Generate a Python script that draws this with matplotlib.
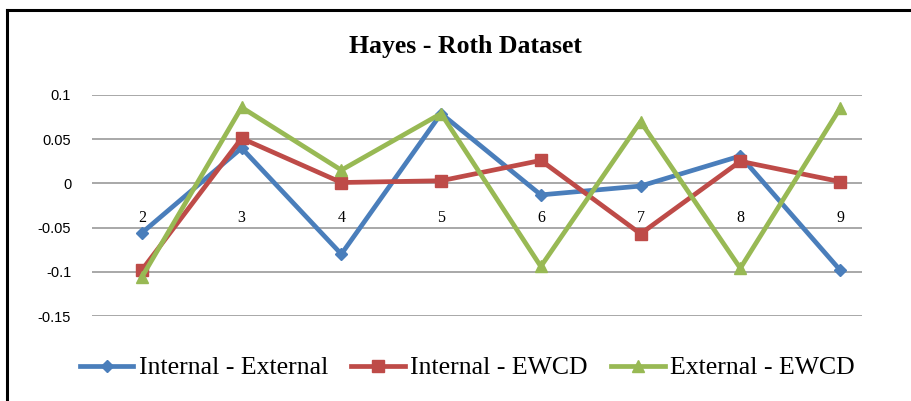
import numpy as np
import matplotlib.pyplot as plt
from matplotlib.lines import Line2D

# data
groups = [2, 3, 4, 5, 6, 7, 8, 9]
int_ext = [-0.056, 0.040, -0.080, 0.079, -0.013, -0.003, 0.031, -0.098]
int_ewcd = [-0.098, 0.051, 0.001, 0.003, 0.026, -0.057, 0.025, 0.002]
ext_ewcd = [-0.106, 0.086, 0.015, 0.079, -0.094, 0.070, -0.096, 0.085]
yticks = [-0.15, -0.1, -0.05, 0, 0.05, 0.1]
ytick_labels = ['-0.15', '-0.1', '-0.05', '0', '0.05', '0.1']

serif = 'Liberation Serif'
sans = 'Liberation Sans'

W, H = 912, 401
fig = plt.figure(figsize=[W / 100, H / 100], dpi=100)
ax = fig.add_axes([92 / W, 1 - 316 / H, (862 - 92) / W, (316 - 95) / H])

# Plotting
ax.plot(groups, int_ext, color='#4A7EBB', lw=3.4, marker='D', ms=6,
        label='Internal - External', zorder=3)
ax.plot(groups, int_ewcd, color='#BE4B48', lw=3.4, marker='s', ms=8,
        label='Internal - EWCD', zorder=3)
ax.plot(groups, ext_ewcd, color='#98B954', lw=3.4, marker='^', ms=9,
        label='External - EWCD', zorder=3)

# Axes styling
ax.set_xlim(1.5, 9.22)
ax.set_ylim(-0.15, 0.1)
ax.set_yticks(yticks)
ax.set_yticklabels(ytick_labels, fontname=sans, fontsize=10.5)
ax.grid(axis='y', color='#999999', lw=1.2)
ax.set_axisbelow(True)
for s in ax.spines.values():
    s.set_visible(False)
ax.tick_params(axis='y', length=0, pad=15)

# category labels sit just under the zero line
ax.spines['bottom'].set_position(('data', 0))
ax.set_xticks(groups)
ax.set_xticklabels([str(g) for g in groups], fontname=serif, fontsize=11.5)
ax.tick_params(axis='x', length=0, pad=19)

# Title
fig.text(465 / W, 1 - 47 / H, 'Hayes - Roth Dataset', ha='center', va='center',
         fontname=serif, fontsize=18.5, fontweight='bold')

# Legend
fig.legend(loc='center', bbox_to_anchor=(467 / W, 1 - 368 / H), ncol=3,
           frameon=False, prop={'family': serif, 'size': 18.5},
           handlelength=2.1, handletextpad=0.2, columnspacing=0.9,
           borderaxespad=0)

# outer frame (left and top edges visible)
fig.add_artist(Line2D([7 / W, 7 / W], [0, 1 - 10 / H], color='black', lw=2.2,
                      transform=fig.transFigure))
fig.add_artist(Line2D([7 / W, 1], [1 - 10 / H, 1 - 10 / H], color='black', lw=2.2,
                      transform=fig.transFigure))

fig.savefig('out.png', dpi=100)
